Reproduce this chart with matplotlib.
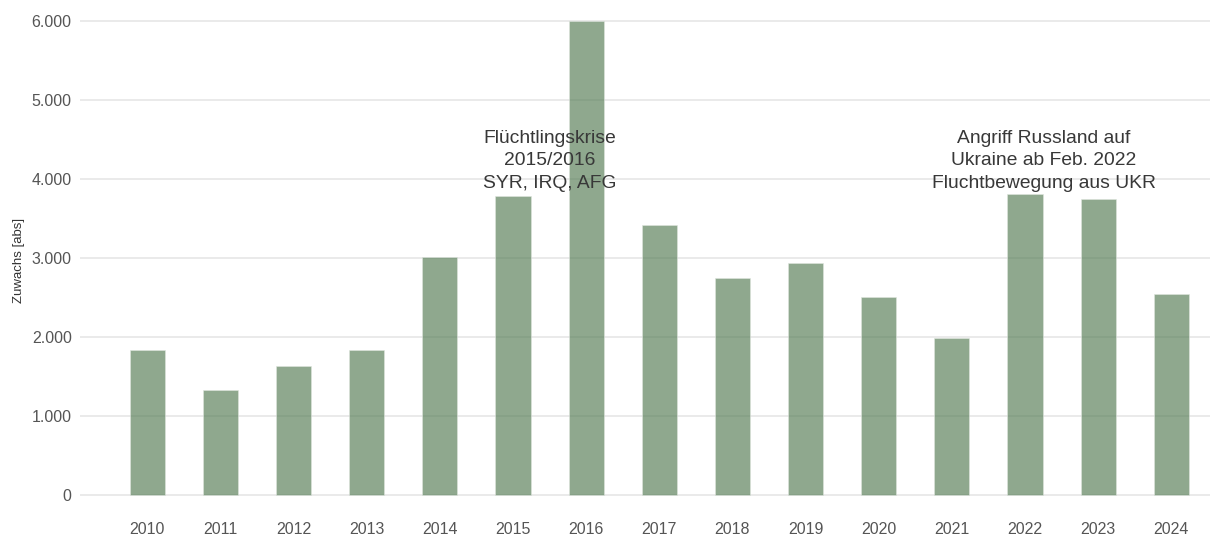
import matplotlib
matplotlib.use("Agg")
import matplotlib.pyplot as plt
from matplotlib.ticker import FuncFormatter

years = [str(y) for y in range(2010, 2025)]
zuwachs = [1830, 1325, 1630, 1835, 3010, 3785, 6000, 3420,
           2745, 2935, 2500, 1985, 3810, 3750, 2540]
yticks = [0, 1000, 2000, 3000, 4000, 5000, 6000]
notes = [
    (5.5, 4230, "Flüchtlingskrise\n2015/2016\nSYR, IRQ, AFG"),
    (12.26, 4230, "Angriff Russland auf\nUkraine ab Feb. 2022\nFluchtbewegung aus UKR"),
]

plt.rcParams["font.family"] = ["Liberation Sans", "DejaVu Sans"]

fig = plt.figure(figsize=(12.1, 5.4), dpi=100)
ax = fig.add_axes([80 / 1210, 35 / 540, 1130 / 1210, 490 / 540])

x = list(range(len(years)))
ax.bar(x, zuwachs, width=0.48, color="#537a52", alpha=0.65,
       edgecolor="#dfe6df", linewidth=0.6, zorder=2)

ax.set_xlim(-0.92, 14.53)
ax.set_ylim(-127, 6076)
ax.set_yticks(yticks)
ax.yaxis.set_major_formatter(FuncFormatter(lambda v, p: f"{int(v):,}".replace(",", ".")))
ax.set_xticks(x)
ax.set_xticklabels(years)
ax.grid(axis="y", color="#e6e6e6", lw=1.2, zorder=1)
ax.tick_params(length=0, labelsize=11.5, colors="#555555", pad=6)
ax.tick_params(axis="x", pad=12)
for s in ax.spines.values():
    s.set_visible(False)
ax.set_ylabel("Zuwachs [abs]", fontsize=9.5, color="#333333", labelpad=5)

for nx, ny, txt in notes:
    ax.text(nx, ny, txt, ha="center", va="center", fontsize=13.9,
            color="#383838", linespacing=1.42, zorder=3)

fig.savefig("out.png", dpi=100)
